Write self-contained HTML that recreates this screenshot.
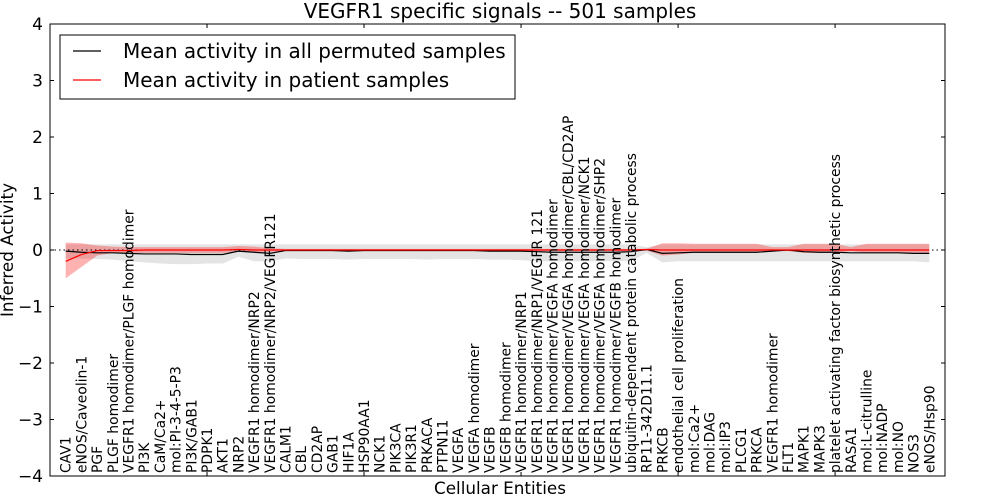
<!DOCTYPE html>
<html><head><meta charset="utf-8"><style>
html,body{margin:0;padding:0;background:#fff;}
svg{display:block;font-family:"DejaVu Sans","Liberation Sans",sans-serif;}
</style></head><body>
<svg id="chart" width="1000" height="500" viewBox="0 0 1000 500"></svg>
<script>
const categories=["CAV1","eNOS/Caveolin-1","PGF","PLGF homodimer","VEGFR1 homodimer/PLGF homodimer","PI3K","CaM/Ca2+","mol:PI-3-4-5-P3","PI3K/GAB1","PDPK1","AKT1","NRP2","VEGFR1 homodimer/NRP2","VEGFR1 homodimer/NRP2/VEGFR121","CALM1","CBL","CD2AP","GAB1","HIF1A","HSP90AA1","NCK1","PIK3CA","PIK3R1","PRKACA","PTPN11","VEGFA","VEGFA homodimer","VEGFB","VEGFB homodimer","VEGFR1 homodimer/NRP1","VEGFR1 homodimer/NRP1/VEGFR 121","VEGFR1 homodimer/VEGFA homodimer","VEGFR1 homodimer/VEGFA homodimer/CBL/CD2AP","VEGFR1 homodimer/VEGFA homodimer/NCK1","VEGFR1 homodimer/VEGFA homodimer/SHP2","VEGFR1 homodimer/VEGFB homodimer","ubiquitin-dependent protein catabolic process","RP11-342D11.1","PRKCB","endothelial cell proliferation","mol:Ca2+","mol:DAG","mol:IP3","PLCG1","PRKCA","VEGFR1 homodimer","FLT1","MAPK1","MAPK3","platelet activating factor biosynthetic process","RASA1","mol:L-citrulline","mol:NADP","mol:NO","NOS3","eNOS/Hsp90"];
const permMean=[-0.02,-0.04,-0.05,-0.05,-0.06,-0.07,-0.07,-0.07,-0.08,-0.08,-0.08,-0.02,-0.04,-0.06,-0.01,-0.01,-0.01,-0.01,-0.02,-0.01,-0.01,-0.01,-0.01,-0.01,-0.01,-0.01,-0.01,-0.02,-0.02,-0.02,-0.03,-0.04,-0.04,-0.04,-0.04,-0.04,-0.03,0.01,-0.06,-0.05,-0.04,-0.04,-0.04,-0.04,-0.04,-0.02,0.0,-0.03,-0.04,-0.04,-0.05,-0.05,-0.05,-0.05,-0.06,-0.06];
const permUpper=[0.1,0.1,0.1,0.1,0.1,0.1,0.1,0.1,0.1,0.1,0.1,0.1,0.1,0.1,0.1,0.1,0.1,0.1,0.1,0.1,0.1,0.1,0.1,0.1,0.1,0.1,0.1,0.1,0.1,0.1,0.1,0.1,0.1,0.1,0.1,0.1,0.1,0.05,0.1,0.1,0.1,0.1,0.1,0.1,0.1,0.1,0.1,0.1,0.1,0.1,0.1,0.1,0.1,0.1,0.1,0.1];
const permLower=[-0.15,-0.15,-0.16,-0.17,-0.2,-0.22,-0.24,-0.25,-0.25,-0.24,-0.24,-0.12,-0.2,-0.2,-0.15,-0.16,-0.16,-0.16,-0.17,-0.16,-0.16,-0.16,-0.16,-0.17,-0.16,-0.16,-0.16,-0.17,-0.17,-0.18,-0.2,-0.2,-0.2,-0.2,-0.2,-0.2,-0.2,-0.05,-0.22,-0.2,-0.2,-0.2,-0.2,-0.2,-0.2,-0.2,-0.2,-0.2,-0.2,-0.2,-0.2,-0.2,-0.2,-0.2,-0.2,-0.22];
const patMean=[-0.2,-0.08,-0.01,-0.01,-0.01,0.0,0.0,0.0,0.0,0.0,0.0,0.01,0.0,0.0,0.0,0.0,0.0,0.0,0.0,0.0,0.0,0.0,0.0,0.0,0.0,0.0,0.0,0.0,0.0,0.0,0.0,0.0,0.0,0.0,0.0,0.0,0.0,0.01,0.0,0.0,0.0,0.0,0.0,0.0,0.0,0.0,0.0,0.0,0.0,0.0,0.0,0.0,0.0,0.0,0.0,0.0];
const patUpper=[0.13,0.12,0.08,0.06,0.05,0.05,0.05,0.05,0.05,0.05,0.05,0.07,0.06,0.03,0.02,0.02,0.02,0.02,0.02,0.02,0.02,0.02,0.02,0.02,0.02,0.02,0.02,0.02,0.02,0.02,0.02,0.02,0.02,0.02,0.02,0.02,0.02,0.02,0.12,0.12,0.11,0.11,0.11,0.11,0.11,0.05,0.05,0.11,0.11,0.11,0.05,0.11,0.11,0.11,0.11,0.11];
const patLower=[-0.5,-0.3,-0.1,-0.05,-0.05,-0.05,-0.05,-0.05,-0.05,-0.05,-0.05,-0.03,-0.04,-0.03,-0.02,-0.02,-0.02,-0.02,-0.02,-0.02,-0.02,-0.02,-0.02,-0.02,-0.02,-0.02,-0.02,-0.02,-0.02,-0.02,-0.02,-0.02,-0.02,-0.02,-0.02,-0.02,-0.02,-0.01,-0.1,-0.08,-0.05,-0.05,-0.05,-0.05,-0.05,-0.02,-0.02,-0.05,-0.05,-0.05,-0.02,-0.05,-0.05,-0.05,-0.05,-0.05];
const yTicks=[-4,-3,-2,-1,0,1,2,3,4];
const xTicks=[0,10,20,30,40,50];

const NS="http://www.w3.org/2000/svg";
const svg=document.getElementById('chart');
const L=50,R=945,T=24,B=476;
const xs=v=>L+v*(R-L)/57;
const ys=v=>T+(4-v)*(B-T)/8;
function mk(tag,attrs,parent){const e=document.createElementNS(NS,tag);for(const k in attrs)e.setAttribute(k,attrs[k]);(parent||svg).appendChild(e);return e;}

function band(up,lo,fill,op,name){
  let d='M'+up.map((v,i)=>xs(i+1)+','+ys(v)).join(' L');
  for(let i=lo.length-1;i>=0;i--) d+=' L'+xs(i+1)+','+ys(lo[i]);
  const p=mk('path',{d:d+'Z',fill:fill,'fill-opacity':op,stroke:'none'});
  
  
}
band(permUpper,permLower,'#bbbbbb',0.4,'permuted-band');
band(patUpper,patLower,'#ff0000',0.3,'patient-band');
const zl=mk('line',{x1:L,x2:R,y1:ys(0),y2:ys(0),stroke:'#000','stroke-width':1,'stroke-dasharray':'1.5,3'});


function line(vals,col,name){
  const p=mk('polyline',{points:vals.map((v,i)=>xs(i+1)+','+ys(v)).join(' '),fill:'none',stroke:col,'stroke-width':1.2});
  
  
}
line(permMean,'#000','permuted-mean-line');
line(patMean,'#ff0000','patient-mean-line');

const fr=mk('rect',{x:L,y:T,width:R-L,height:B-T,fill:'none',stroke:'#000','stroke-width':1});


yTicks.forEach(v=>{
  mk('line',{x1:L,x2:L+4,y1:ys(v),y2:ys(v),stroke:'#000'});
  mk('line',{x1:R,x2:R-4,y1:ys(v),y2:ys(v),stroke:'#000'});
  const t=mk('text',{x:L-7,y:ys(v)+6,'text-anchor':'end','font-size':17});
  t.textContent=(v<0?'\u2212'+(-v):''+v);
  
  
});
xTicks.forEach(v=>{
  mk('line',{x1:xs(v),x2:xs(v),y1:T,y2:T+4,stroke:'#000'});
  mk('line',{x1:xs(v),x2:xs(v),y1:B,y2:B-4,stroke:'#000'});
});
categories.forEach((c,i)=>{
  const x=xs(i+1)+5,y=B-3;
  const t=mk('text',{x:x,y:y,transform:'rotate(-90 '+x+' '+y+')','font-size':13.9});
  t.textContent=c;
  
  
});
</script>
<svg style="position:absolute;left:0;top:0" width="1000" height="500">
<text x="500" y="18" text-anchor="middle" font-size="20" font-family="DejaVu Sans, Liberation Sans, sans-serif">VEGFR1 specific signals -- 501 samples</text>
<text x="500" y="494" text-anchor="middle" font-size="16.8" font-family="DejaVu Sans, Liberation Sans, sans-serif">Cellular Entities</text>
<text x="13" y="250" text-anchor="middle" font-size="16.8" transform="rotate(-90 13 250)" font-family="DejaVu Sans, Liberation Sans, sans-serif">Inferred Activity</text>
<g font-family="DejaVu Sans, Liberation Sans, sans-serif" font-size="20">
<rect x="60" y="35" width="455" height="64" fill="#fff" stroke="#000" stroke-width="1"/>
<line x1="73" x2="101" y1="51" y2="51" stroke="#000" stroke-width="1.2"/>
<text x="123" y="58">Mean activity in all permuted samples</text>
<line x1="73" x2="101" y1="80" y2="80" stroke="#f00" stroke-width="1.2"/>
<text x="123" y="87">Mean activity in patient samples</text>
</g>
</svg>
</body></html>
